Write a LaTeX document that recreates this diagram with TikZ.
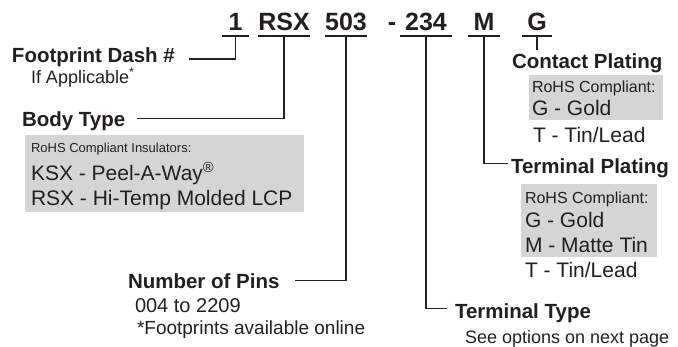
\documentclass[tikz,border=0pt]{standalone}
\usepackage{fontspec}
\setmainfont{Liberation Sans}
\definecolor{ink}{HTML}{231F20}
\definecolor{boxgray}{HTML}{D5D5D5}

\begin{document}
\begin{tikzpicture}[
		x=1pt, y=-1pt,
		line width=1.3pt, draw=ink, color=ink,
		every node/.style={inner sep=0pt, outer sep=0pt, text=ink},
		code/.style={font=\fontsize{25}{30}\selectfont\bfseries, anchor=base, inner ysep=6pt, text depth=0pt},
		heading/.style={font=\fontsize{20.5}{24}\selectfont\bfseries, anchor=base west, text height=15pt, text depth=0pt},
		note/.style={font=\fontsize{18}{22}\selectfont, anchor=base west},
		rohs/.style={font=\fontsize{16}{19}\selectfont, anchor=base west},
		option/.style={font=\fontsize{21}{25}\selectfont, anchor=base west},
		graybox/.style={fill=boxgray, anchor=north west}
	]
	\useasboundingbox (0,0) rectangle (678,346);

	% part number
	\node[code, minimum width=27pt] (dash1) at (235.5,30) {1};
	\node[code, minimum width=52pt] (body) at (284,30) {RSX};
	\node[code, minimum width=42pt] (pins) at (346,30) {503};
	\node[code] (minus) at (392,30) {-};
	\node[code, minimum width=52pt] (term) at (426,30) {234};
	\node[code, minimum width=32pt] (plate) at (484,30) {M};
	\node[code, minimum width=30pt] (contact) at (537,30) {G};
	\foreach \part in {dash1,body,pins,term,plate,contact}
		\draw (\part.south west) -- (\part.south east);

	% footprint dash
	\node[heading] (dashT) at (12,62.5) {Footprint Dash \#};
	\node[note] (dashN) at (31,83) {If Applicable\textsuperscript{*}};
	\draw (dash1.south) |- ([xshift=14pt,yshift=-4pt]dashT.east);

	% body type
	\node[heading] (bodyT) at (22,126) {Body Type};
	\node[graybox, minimum width=279pt, minimum height=77pt] (bodyBox) at (25,135) {};
	\node[font=\fontsize{13}{16}\selectfont, anchor=base west] (bodyR) at (31,152) {RoHS Compliant Insulators:};
	\node[option] (bodyK) at (31,180) {KSX - Peel-A-Way\textsuperscript{\textregistered}};
	\node[option] (bodyS) at (31,205) {RSX - Hi-Temp Molded LCP};
	\draw (body.south) |- ([xshift=12pt]bodyT.east);

	% number of pins
	\node[heading] (pinsT) at (128,288) {Number of Pins};
	\node[note, font=\fontsize{20}{24}\selectfont] (pinsN) at (135,312) {004 to 2209};
	\node[note, font=\fontsize{19}{22}\selectfont] (pinsF) at (137,334) {*Footprints available online};
	\draw (pins.south) |- ([xshift=16pt]pinsT.east);

	% terminal type
	\node[heading] (termT) at (455,318) {Terminal Type};
	\node[note] (termN) at (465,343) {See options on next page};
	\draw (term.south) |- ([xshift=-8pt,yshift=2pt]termT.west);

	% terminal plating
	\node[heading] (plateT) at (511,173) {Terminal Plating};
	\node[graybox, minimum width=136pt, minimum height=73pt] (plateBox) at (521,184) {};
	\node[rohs] (plateR) at (525,203) {RoHS Compliant:};
	\node[option] (plateG) at (525,227) {G - Gold};
	\node[option] (plateM) at (525,252) {M - Matte Tin};
	\node[option] (plateTL) at (525,277) {T - Tin/Lead};
	\draw (plate.south) |- ([xshift=-3pt,yshift=2pt]plateT.west);

	% contact plating
	\node[heading] (contactT) at (512,68) {Contact Plating};
	\node[graybox, minimum width=134pt, minimum height=45pt] (contactBox) at (529,75) {};
	\node[rohs] (contactR) at (532,92) {RoHS Compliant:};
	\node[option] (contactG) at (532,115) {G - Gold};
	\node[option] (contactTL) at (533,142) {T - Tin/Lead};
	\draw[shorten >=3pt] (contact.south) -- (contact.south |- contactT.north);
\end{tikzpicture}
\end{document}
